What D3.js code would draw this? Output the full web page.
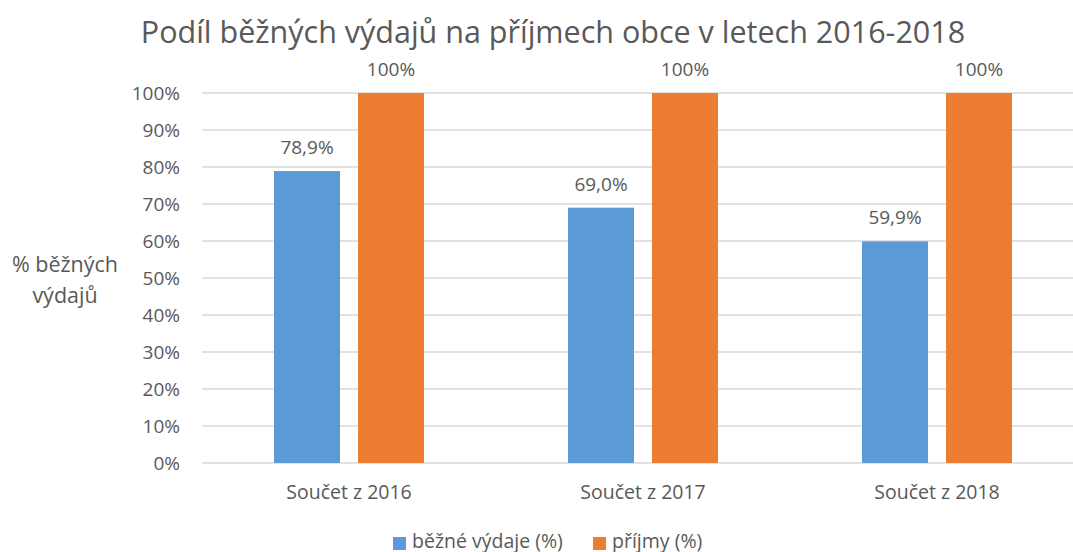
<!DOCTYPE html>
<html>
<head>
<meta charset="utf-8">
<script src="https://cdn.jsdelivr.net/npm/d3@7"></script>
<style>
  body { margin: 0; background: #fff; }
  svg text { font-family: "Open Sans", "Noto Sans", sans-serif; fill: #595959; }
</style>
</head>
<body>
<svg id="chart" width="1073" height="552"></svg>
<script>
// chart data
var categories = ['Součet z 2016', 'Součet z 2017', 'Součet z 2018'];
var seriesNames = ['běžné výdaje (%)', 'příjmy (%)'];
var vydaje = [78.9, 69.0, 59.9];
var prijmy = [100, 100, 100];
var yTicks = [0, 10, 20, 30, 40, 50, 60, 70, 80, 90, 100];
var colors = ['#5B9BD5', '#ED7D31'];

var svg = d3.select('#chart');
var plotLeft = 202, plotRight = 1084, plotTop = 93, plotBottom = 463;

var x = d3.scaleBand().domain(categories).range([plotLeft, plotRight]).paddingInner(0).paddingOuter(0);
var x1 = d3.scaleBand().domain(seriesNames).range([72, 222]).paddingInner(18 / 84).paddingOuter(0);
var y = d3.scaleLinear().domain([0, 100]).range([plotBottom, plotTop]);

// gridlines
svg.selectAll('.grid').data(yTicks).enter()
    .append('line')
    .attr('class', 'grid')
    .attr('x1', plotLeft).attr('x2', plotRight)
    .attr('y1', function(d) { return y(d); })
    .attr('y2', function(d) { return y(d); })
    .attr('stroke', '#D9D9D9')
    .attr('stroke-width', 1.3);

// y tick labels
svg.selectAll('.ytick').data(yTicks).enter()
    .append('text')
    .attr('class', 'ytick')
    .attr('x', 180)
    .attr('y', function(d) { return y(d) + 6.5; })
    .attr('text-anchor', 'end')
    .attr('font-size', '19px')
    .text(function(d) { return d + '%'; });

// bars
var rows = categories.map(function(c, i) {
    return [{cat: c, s: seriesNames[0], v: vydaje[i], label: d3.format('.1f')(vydaje[i]).replace('.', ',') + '%', c: colors[0]},
            {cat: c, s: seriesNames[1], v: prijmy[i], label: prijmy[i] + '%', c: colors[1]}];
});
var flat = [].concat.apply([], rows);

svg.selectAll('.bar').data(flat).enter()
    .append('rect')
    .attr('class', 'bar')
    .attr('x', function(d) { return x(d.cat) + x1(d.s); })
    .attr('y', function(d) { return y(d.v); })
    .attr('width', x1.bandwidth())
    .attr('height', function(d) { return y(0) - y(d.v); })
    .attr('fill', function(d) { return d.c; });

svg.selectAll('.dlabel').data(flat).enter()
    .append('text')
    .attr('class', 'dlabel')
    .attr('x', function(d) { return x(d.cat) + x1(d.s) + x1.bandwidth() / 2; })
    .attr('y', function(d) { return y(d.v) - 17; })
    .attr('text-anchor', 'middle')
    .attr('font-size', '19px')
    .text(function(d) { return d.label; });

// category labels
svg.selectAll('.xlabel').data(categories).enter()
    .append('text')
    .attr('class', 'xlabel')
    .attr('x', function(d) { return x(d) + 147; })
    .attr('y', 499)
    .attr('text-anchor', 'middle')
    .attr('font-size', '19.5px')
    .text(function(d) { return d; });

// title
svg.append('text')
    .attr('x', 553).attr('y', 43)
    .attr('text-anchor', 'middle')
    .attr('font-size', '30.5px')
    .text('Podíl běžných výdajů na příjmech obce v letech 2016-2018');

// y axis title
svg.selectAll('.ytitle').data(['% běžných', 'výdajů']).enter()
    .append('text')
    .attr('class', 'ytitle')
    .attr('x', 65)
    .attr('y', function(d, i) { return 272 + i * 31; })
    .attr('text-anchor', 'middle')
    .attr('font-size', '21.5px')
    .text(function(d) { return d; });

// legend
var legendX = [393, 593];
var lg = svg.selectAll('.legend').data(seriesNames).enter()
    .append('g')
    .attr('class', 'legend')
    .attr('transform', function(d, i) { return 'translate(' + legendX[i] + ',537)'; });
lg.append('rect').attr('width', 13).attr('height', 13).attr('fill', function(d, i) { return colors[i]; });
lg.append('text').attr('x', 19).attr('y', 11).attr('font-size', '19.5px').text(function(d) { return d; });
</script>
</body>
</html>
